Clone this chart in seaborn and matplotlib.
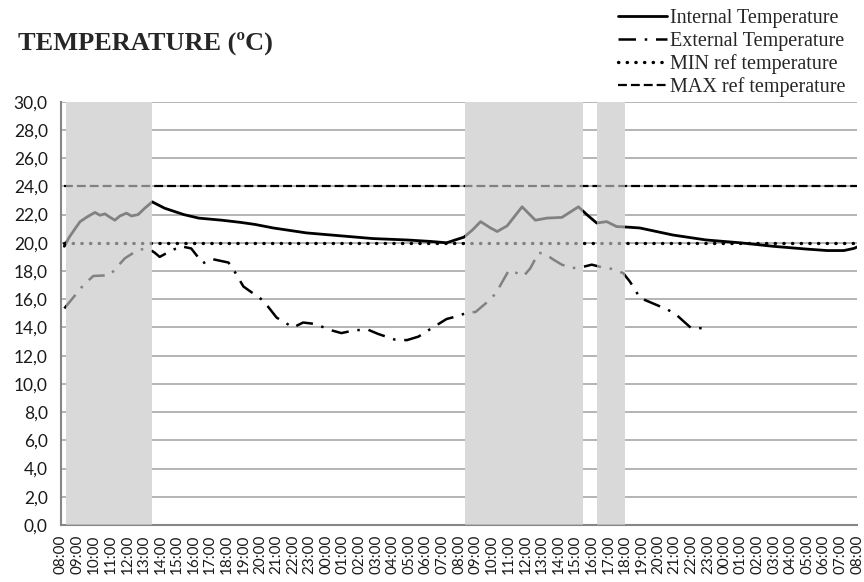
import matplotlib
matplotlib.use('Agg')
import matplotlib.pyplot as plt
import seaborn as sns

# hours since 08:00 of the first day
int_hours = [0.2, 0.5, 0.85, 1.15, 1.6, 2.05, 2.35, 2.65, 2.9, 3.25, 3.55, 3.95, 4.25, 4.65,
             5.05, 5.5, 6.25, 7.4, 8.3, 9.7, 10.8, 11.7, 12.8, 14.8, 16.8, 18.8, 20.85, 22.25,
             23.25, 23.9, 24.3, 24.8, 25.3, 25.9, 26.3, 26.9, 27.8, 28.6, 29.3, 30.2, 31.2,
             31.7, 32.3, 32.9, 33.5, 34.3, 34.9, 36.9, 38.9, 40.95, 42.95, 45.0, 46.2, 47.2,
             47.8, 48.0]
int_temp = [19.75, 20.4, 21.0, 21.5, 21.85, 22.15, 21.95, 22.05, 21.85, 21.6, 21.9, 22.1, 21.9, 22.0,
            22.45, 22.9, 22.45, 22.0, 21.75, 21.6, 21.45, 21.3, 21.05, 20.7, 20.5, 20.3, 20.2, 20.1,
            20.0, 20.25, 20.4, 20.9, 21.5, 21.05, 20.8, 21.2, 22.55, 21.6, 21.75, 21.8, 22.55,
            22.0, 21.4, 21.5, 21.15, 21.1, 21.05, 20.55, 20.2, 20.0, 19.75, 19.55, 19.45, 19.45,
            19.6, 19.7]

ext_hours = [0.2, 1.35, 1.95, 2.95, 3.35, 3.85, 4.65, 5.25, 5.65, 5.95, 6.65, 7.25, 7.85, 8.55,
             9.1, 10.1, 10.5, 11.0, 12.2, 12.6, 13.0, 14.0, 14.6, 15.3, 16.3, 16.9, 17.7, 18.5,
             19.1, 20.1, 20.85, 21.55, 22.15, 23.25, 23.9, 24.5, 25.0, 25.5, 26.0, 26.4, 27.0,
             27.5, 27.9, 28.3, 28.8, 29.2, 29.7, 30.2, 30.8, 31.5, 32.0, 32.5, 33.2, 33.9, 34.3,
             34.6, 34.9, 35.5, 36.1, 36.6, 37.1, 38.0, 39.0]
ext_temp = [15.35, 17.0, 17.65, 17.7, 18.25, 18.9, 19.5, 19.6, 19.3, 19.0, 19.45, 19.75, 19.6, 18.55,
            18.85, 18.6, 17.9, 16.9, 15.9, 15.3, 14.7, 14.0, 14.35, 14.25, 13.8, 13.6, 13.8, 13.85,
            13.55, 13.15, 13.1, 13.35, 13.8, 14.6, 14.8, 15.05, 15.1, 15.6, 16.1, 16.8, 18.05,
            17.85, 17.65, 18.2, 19.3, 19.2, 18.8, 18.45, 18.2, 18.3, 18.45, 18.3, 18.15, 17.85, 17.25,
            16.7, 16.1, 15.8, 15.5, 15.25, 14.9, 13.95, 13.95]

ref_hours = [0.2, 48.0]
min_ref = [20.0, 20.0]
max_ref = [24.0, 24.0]

# occupied periods (shaded)
span_start = [0.33, 24.33, 32.33]
span_end = [5.5, 31.5, 34.0]

tick_labels = ['%02d:00' % ((8 + h) % 24) for h in range(49)]

sns.set_style('white')
plt.rcParams['font.family'] = ['Lato', 'DejaVu Sans']

fig = plt.figure(figsize=(8.64, 5.82), dpi=100)
ax = fig.add_axes([0.0706, 0.0979, 0.9214, 0.7274])

sns.lineplot(x=int_hours, y=int_temp, ax=ax, color='black', linewidth=2.0,
             label='Internal Temperature', zorder=3)
sns.lineplot(x=ext_hours, y=ext_temp, ax=ax, color='black', linewidth=1.8,
             linestyle=(0, (7, 3.5, 1, 3.5)), label='External Temperature', zorder=3)
sns.lineplot(x=ref_hours, y=min_ref, ax=ax, color='black', linewidth=2.4,
             linestyle=(0, (0.1, 2.5)), dash_capstyle='round', label='MIN ref temperature', zorder=3)
sns.lineplot(x=ref_hours, y=max_ref, ax=ax, color='black', linewidth=1.6,
             linestyle=(0, (4, 1.8)), label='MAX ref temperature', zorder=3)

for s, e in zip(span_start, span_end):
    ax.axvspan(s, e, color='#d9d9d9', lw=0, zorder=1)
    ax.axvspan(s, e, color='#d9d9d9', alpha=0.6, lw=0, zorder=4)

ax.set_xlim(0, 48)
ax.set_ylim(0, 30)
ax.set_yticks(range(0, 31, 2))
ax.set_yticklabels(['%d,0' % v for v in range(0, 31, 2)])
ax.set_xticks(range(49))
ax.set_xticklabels(tick_labels, rotation=90)
ax.set_xlabel('')
ax.set_ylabel('')

ax.yaxis.grid(True, color='#a0a0a0', linewidth=1.1, zorder=0)
ax.set_axisbelow(True)
for side in ['top', 'right']:
    ax.spines[side].set_visible(False)
for side in ['left', 'bottom']:
    ax.spines[side].set_color('#868686')
    ax.spines[side].set_linewidth(1.5)
ax.tick_params(axis='both', which='major', direction='out', length=4, width=1,
               color='#868686', labelsize=12.5, labelcolor='#1a1a1a')
ax.tick_params(axis='y', pad=5.5)
ax.tick_params(axis='x', labelsize=11, pad=3)

ax.get_legend().remove()
handles, labels = ax.get_legend_handles_labels()
fig.legend(handles, labels, loc='upper right', bbox_to_anchor=(0.992, 1.005), frameon=False,
           prop={'family': 'Liberation Serif', 'size': 14.5}, handlelength=2.45,
           handletextpad=0.12, labelspacing=0.17, borderaxespad=0.2)

fig.text(0.021, 0.925, 'TEMPERATURE (ºC)', fontfamily='Liberation Serif', fontweight='bold',
         fontsize=19, va='center', ha='left')

fig.savefig('out.png', dpi=100)
